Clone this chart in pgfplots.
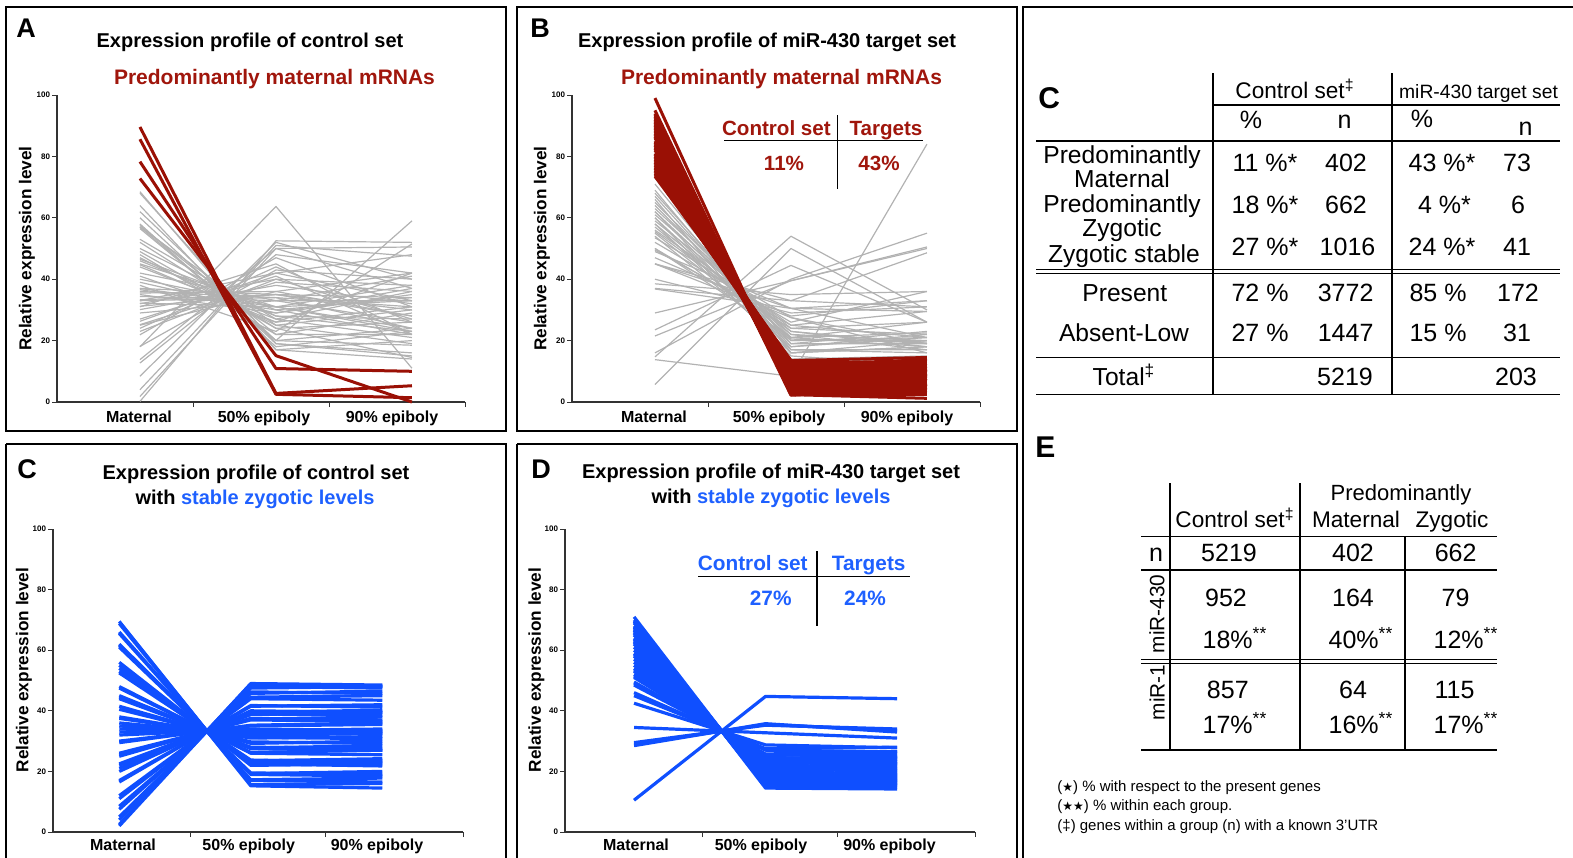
\documentclass[border=0pt]{standalone}
\usepackage{pgfplots}
\pgfplotsset{compat=1.18}
\usepackage{fontspec}
\setmainfont{Liberation Sans}
\newfontfamily\symfont{DejaVu Sans}
\definecolor{mred}{HTML}{9A1005}
\definecolor{tred}{HTML}{A0160C}
\definecolor{mblue}{HTML}{0F4FFF}
\definecolor{tblue}{HTML}{1E60FF}
\definecolor{lgrey}{HTML}{B2B2B2}
\definecolor{axgrey}{HTML}{333333}
\newcommand\fsz[1]{\fontsize{#1pt}{#1pt}\selectfont}
\newcommand\Lg[3]{\addplot[draw=lgrey,line width=0.6pt] coordinates {(0,#1)(1,#2)(2,#3)};}
\newcommand\Lr[3]{\addplot[draw=mred,line width=1.5pt] coordinates {(0,#1)(1,#2)(2,#3)};}
\newcommand\Lb[3]{\addplot[draw=mblue,line width=1.6pt] coordinates {(0,#1)(1,#2)(2,#3)};}
\pgfplotsset{panel/.style={
  scale only axis, anchor=south west, clip=false,
  ymin=0, ymax=100, ytick={0,20,40,60,80,100},
  axis x line=bottom, axis y line=left,
  axis line style={-, draw=axgrey, line width=0.6pt},
  tick style={draw=axgrey, line width=0.5pt},
  tick align=outside, major tick length=2.5pt,
  xticklabels={},
  yticklabel style={font=\bfseries\fsz{4}, inner sep=0.8pt},
  /pgf/number format/assume math mode=true,
  every axis plot/.append style={line join=round, mark=none},
}}
\begin{document}
\begin{tikzpicture}[x=0.5pt,y=-0.5pt]
\useasboundingbox (0,0) rectangle (1573,857);
% frames
\draw[line width=0.8pt] (6,7) rectangle (506,431);
\draw[line width=0.8pt] (517,7) rectangle (1017,431);
\draw[line width=0.8pt] (6,444) -- (6,870) (6,444) -- (506,444) -- (506,870);
\draw[line width=0.8pt] (517,444) -- (517,870) (517,444) -- (1017,444) -- (1017,870);
\draw[line width=0.8pt] (1023,870) -- (1023,7) -- (1590,7);

% ---------------- Panel A ----------------
\begin{axis}[panel, at={(28.5pt,-201pt)}, width=204pt, height=153.5pt,
  xmin=-0.61, xmax=2.39, xtick={0.39,1.39,2.39}]
\Lg{68.5}{17}{20}
\Lg{68}{19}{15}
\Lg{62}{20}{18.5}
\Lg{57.5}{22}{22}
\Lg{57}{25}{19}
\Lg{56.5}{20}{24}
\Lg{53}{27}{21}
\Lg{52}{24}{26}
\Lg{50}{28}{23}
\Lg{47}{25}{30}
\Lg{46.5}{30}{22}
\Lg{46}{28}{27}
\Lg{45}{31}{24}
\Lg{44.7}{26}{31}
\Lg{42}{33}{26}
\Lg{40}{31}{33}
\Lg{39}{29}{35}
\Lg{37}{35}{28}
\Lg{36.6}{30}{34}
\Lg{36}{34}{31}
\Lg{35.5}{36}{28}
\Lg{35}{29}{37}
\Lg{34.4}{33}{33}
\Lg{33.3}{35}{30}
\Lg{32.2}{31}{38}
\Lg{32}{40}{27}
\Lg{31.2}{35}{34}
\Lg{30.1}{38}{32}
\Lg{29}{33}{41}
\Lg{26.3}{42}{33}
\Lg{25.2}{39}{36}
\Lg{25}{36}{42}
\Lg{23}{40}{38}
\Lg{21.9}{47}{31}
\Lg{18.1}{43}{40}
\Lg{13.8}{50}{37}
\Lg{12.7}{48}{42}
\Lg{8.4}{52}{40}
\Lg{4}{51}{47.5}
\Lg{1.8}{50}{50.5}
\Lg{0.2}{52.5}{52}
\Lg{18}{63.7}{11}
\Lg{57}{20}{59}
\Lg{60}{19}{16}
\Lg{64}{17}{14}
\Lg{58}{18}{23}
\Lg{38}{23}{51.5}
\Lg{33}{42}{48}
\Lg{31}{45}{22}
\Lg{44}{27}{36}
\Lg{48}{22}{29}
\Lg{27}{41}{22}
\Lg{24}{44}{26}
\Lg{33}{34}{24}
\Lg{37}{31}{23}
\Lg{49}{24}{14.5}
\Lg{41}{26}{42}
\Lr{89.6}{2.8}{5.3}
\Lr{85.6}{2.5}{1.4}
\Lr{78.3}{10.9}{10}
\Lr{72.8}{15.1}{0}
\end{axis}

% ---------------- Panel B ----------------
\begin{axis}[panel, at={(286pt,-201pt)}, width=204pt, height=153.5pt,
  xmin=-0.61, xmax=2.39, xtick={0.39,1.39,2.39}]
\Lg{73}{16}{18}
\Lg{71}{17}{17}
\Lg{69}{16}{20}
\Lg{68}{19}{19}
\Lg{67}{18}{22}
\Lg{65}{21}{18}
\Lg{64}{20}{21}
\Lg{63}{22}{20}
\Lg{62}{17}{16}
\Lg{61}{23}{19}
\Lg{60}{19}{23}
\Lg{59}{24}{22}
\Lg{58}{22}{17}
\Lg{57}{21}{26}
\Lg{56}{25}{21}
\Lg{55.5}{23}{18}
\Lg{55}{20}{20}
\Lg{53.5}{27.5}{19}
\Lg{50}{24}{26}
\Lg{49.5}{25}{29.5}
\Lg{49}{30.5}{21}
\Lg{45}{30.5}{33}
\Lg{45}{27.5}{16}
\Lg{38.5}{35}{36}
\Lg{37}{33}{31}
\Lg{36.8}{30.5}{29.5}
\Lg{29}{39.5}{50.5}
\Lg{23.5}{44.5}{26}
\Lg{21.5}{39.5}{50}
\Lg{5.7}{50}{26}
\Lg{14.7}{54}{30}
\Lg{13.8}{8.4}{84}
\Lg{16}{40}{55}
\Lg{45}{33}{48.6}
\Lg{52}{26}{36}
\Lg{47}{28}{33}
\Lg{40}{29}{31}
\Lg{60}{15}{12}
\Lg{66}{14}{15}
\Lg{58}{16}{18}
\Lg{54}{18}{21}
\Lg{50}{21}{22.5}
\Lg{62}{20.5}{19.5}
\Lr{99}{2.4}{1.2}
\Lr{95}{2.5}{2.5}
\Lr{94}{3}{3}
\Lr{93.5}{2.2}{4.5}
\Lr{93}{4}{3.5}
\Lr{92.5}{3.5}{4}
\Lr{92}{5}{3}
\Lr{91.5}{4.5}{4.5}
\Lr{91}{3}{6}
\Lr{90.5}{5.5}{4}
\Lr{90}{6}{4.5}
\Lr{89.5}{5}{6}
\Lr{89}{6.5}{5}
\Lr{88.5}{4}{7.5}
\Lr{88}{7}{5.5}
\Lr{87.5}{6}{7}
\Lr{87}{8}{5}
\Lr{86.5}{7.5}{6.5}
\Lr{86}{5}{9}
\Lr{85}{8.5}{7}
\Lr{84.5}{7}{8.5}
\Lr{84}{9}{7.5}
\Lr{83.5}{6}{10.5}
\Lr{83}{10}{7}
\Lr{82.5}{8}{9.5}
\Lr{82}{9.5}{8.5}
\Lr{81}{11}{8}
\Lr{80.5}{8.5}{11}
\Lr{80}{10.5}{9.5}
\Lr{79.5}{12}{8.5}
\Lr{79}{9.5}{11.5}
\Lr{78.5}{11}{10.5}
\Lr{78}{12.5}{9.5}
\Lr{77.5}{10}{12.5}
\Lr{77}{13}{10}
\Lr{76.5}{11.5}{12}
\Lr{76}{12}{12}
\Lr{75.5}{13.5}{11}
\Lr{75}{11}{14}
\Lr{74.5}{13}{12.5}
\Lr{74}{12.5}{13.5}
\Lr{73.5}{13.5}{14.5}
\end{axis}

% ---------------- Panel C (bottom left) ----------------
\begin{axis}[panel, at={(26.5pt,-416pt)}, width=205pt, height=151.5pt,
  xmin=-0.504, xmax=2.614, xtick={0.538,1.572,2.614}]
\Lb{69.5}{15.25}{14.5}
\Lb{68.8}{15.6}{16}
\Lb{66}{17}{16.5}
\Lb{65.5}{17.25}{17.8}
\Lb{62}{19}{18.5}
\Lb{61.5}{19.25}{20}
\Lb{61}{19.5}{19}
\Lb{56}{22}{22.5}
\Lb{55}{22.5}{21.8}
\Lb{54}{23}{23.5}
\Lb{53}{23.5}{24.2}
\Lb{52.5}{23.75}{23}
\Lb{48}{26}{25.5}
\Lb{47.5}{26.25}{27}
\Lb{45}{27.5}{27}
\Lb{44.5}{27.75}{28.5}
\Lb{44}{28}{27.5}
\Lb{41.5}{29.25}{30}
\Lb{40.5}{29.75}{29.2}
\Lb{38}{31}{31.5}
\Lb{37.5}{31.25}{30.8}
\Lb{36}{32}{32.5}
\Lb{35}{32.5}{33.2}
\Lb{34}{33}{32.6}
\Lb{33}{33.5}{34}
\Lb{32}{34}{33.5}
\Lb{30}{35}{35.5}
\Lb{29.5}{35.25}{36}
\Lb{26}{37}{36.5}
\Lb{25.5}{37.25}{38}
\Lb{25}{37.5}{37}
\Lb{22.5}{38.75}{39.5}
\Lb{22}{39}{38.5}
\Lb{21}{39.5}{40.2}
\Lb{20}{40}{39.5}
\Lb{17}{41.5}{42}
\Lb{16.5}{41.75}{41.2}
\Lb{12}{44}{43.5}
\Lb{11}{44.5}{45}
\Lb{8.5}{45.75}{46.5}
\Lb{7.5}{46.25}{45.7}
\Lb{5}{47.5}{48}
\Lb{4}{48}{47.5}
\Lb{2.5}{48.75}{48.2}
\Lb{2}{49}{48.5}
\end{axis}

% ---------------- Panel D ----------------
\begin{axis}[panel, at={(282.5pt,-416pt)}, width=205pt, height=151.5pt,
  xmin=-0.525, xmax=2.593, xtick={0.517,1.551,2.593}]
\Lb{71}{14.5}{14.2}
\Lb{70}{15}{15.5}
\Lb{69.5}{15.25}{14.8}
\Lb{69}{15.5}{16}
\Lb{68}{16}{15.5}
\Lb{67.5}{16.25}{16.8}
\Lb{67}{16.5}{17}
\Lb{66.5}{16.75}{16.2}
\Lb{66}{17}{17.5}
\Lb{65.5}{17.25}{18}
\Lb{65}{17.5}{17}
\Lb{64}{18}{18.5}
\Lb{63.5}{18.25}{19}
\Lb{63}{18.5}{18}
\Lb{62.5}{18.75}{19.5}
\Lb{62}{19}{20}
\Lb{61}{19.5}{19}
\Lb{60}{20}{20.8}
\Lb{59}{20.5}{21}
\Lb{58.5}{20.75}{20.3}
\Lb{58}{21}{22}
\Lb{57}{21.5}{22.5}
\Lb{56}{22}{21.5}
\Lb{55}{22.5}{23.2}
\Lb{54}{23}{22.5}
\Lb{53.5}{23.25}{24}
\Lb{53}{23.5}{23}
\Lb{52}{24}{24.5}
\Lb{51.5}{24.25}{25}
\Lb{51}{24.5}{24}
\Lb{49.5}{25.25}{26}
\Lb{49}{25.5}{25}
\Lb{48.5}{25.75}{26.5}
\Lb{46}{27}{26.5}
\Lb{45}{27.5}{28}
\Lb{42.5}{28.75}{27.8}
\Lb{34.5}{32.75}{31}
\Lb{29.5}{35.25}{34}
\Lb{29}{35.5}{33.5}
\Lb{28.5}{35.75}{33}
\Lb{10.5}{44.75}{44}
\end{axis}

% ---------- texts of line panels ----------
\begin{scope}[every node/.style={inner sep=0pt}]
\node[anchor=base west,font=\bfseries\fsz{13.5}] at (16,37) {A};
\node[anchor=base west,font=\bfseries\fsz{13.5}] at (530,37) {B};
\node[anchor=base west,font=\bfseries\fsz{13.5}] at (17,478) {C};
\node[anchor=base west,font=\bfseries\fsz{13.5}] at (531,478) {D};
\node[anchor=base,font=\bfseries\fsz{10}] at (250,47) {Expression profile of control set};
\node[anchor=base,font=\bfseries\fsz{10.5},text=tred] at (274.5,84) {Predominantly maternal mRNAs};
\node[anchor=base,font=\bfseries\fsz{10}] at (767,47) {Expression profile of miR-430 target set};
\node[anchor=base,font=\bfseries\fsz{10.5},text=tred] at (781.5,84) {Predominantly maternal mRNAs};
\node[anchor=base,font=\bfseries\fsz{10}] at (256,479) {Expression profile of control set};
\node[anchor=base,font=\bfseries\fsz{10}] at (255,504) {with \textcolor{tblue}{stable zygotic levels}};
\node[anchor=base,font=\bfseries\fsz{10}] at (771,478) {Expression profile of miR-430 target set};
\node[anchor=base,font=\bfseries\fsz{10}] at (771,503) {with \textcolor{tblue}{stable zygotic levels}};
% y labels
\node[rotate=90,font=\bfseries\fsz{8.6}] at (27,248.5) {Relative expression level};
\node[rotate=90,font=\bfseries\fsz{8.6}] at (542,248.5) {Relative expression level};
\node[rotate=90,font=\bfseries\fsz{8.6}] at (24,670) {Relative expression level};
\node[rotate=90,font=\bfseries\fsz{8.6}] at (536.5,670) {Relative expression level};
% category labels
\foreach \xa/\xb/\xc/\yy in {139/264/392/422, 654/779/907/422, 123/248.7/377/850, 636/761/889.5/850}{
  \node[anchor=base,font=\bfseries\fsz{8}] at (\xa,\yy) {Maternal};
  \node[anchor=base,font=\bfseries\fsz{8}] at (\xb,\yy) {50\% epiboly};
  \node[anchor=base,font=\bfseries\fsz{8}] at (\xc,\yy) {90\% epiboly};
}
% inset B
\node[anchor=base,font=\bfseries\fsz{10.3},text=tred] at (776.4,135) {Control set};
\node[anchor=base,font=\bfseries\fsz{10.3},text=tred] at (886,135) {Targets};
\node[anchor=base,font=\bfseries\fsz{10.3},text=tred] at (784,170.7) {11\%};
\node[anchor=base,font=\bfseries\fsz{10.3},text=tred] at (879,170.7) {43\%};
\draw[line width=0.7pt] (724,140.3) -- (923,140.3) (837.3,115) -- (837.3,189);
% inset D
\node[anchor=base,font=\bfseries\fsz{10.4},text=tblue] at (752.7,570) {Control set};
\node[anchor=base,font=\bfseries\fsz{10.4},text=tblue] at (868.7,570) {Targets};
\node[anchor=base,font=\bfseries\fsz{10.4},text=tblue] at (770.7,605) {27\%};
\node[anchor=base,font=\bfseries\fsz{10.4},text=tblue] at (865,605) {24\%};
\draw[line width=0.7pt] (698,576.7) -- (910,576.7) (817,551) -- (817,625.7);
\end{scope}

% ---------- Table C (right top) ----------
\begin{scope}[every node/.style={inner sep=0pt,anchor=base}]
\node[anchor=base west,font=\bfseries\fsz{15}] at (1038,108.5) {C};
\draw[line width=0.7pt] (1213,73.3) -- (1213,394.3) (1392,73.3) -- (1392,394.3);
\draw[line width=0.7pt] (1213,105) -- (1560,105);
\draw[line width=0.7pt] (1036,141) -- (1560,141);
\draw[line width=0.6pt] (1036,269.3) -- (1560,269.3) (1036,273.3) -- (1560,273.3);
\draw[line width=0.7pt] (1036,357.7) -- (1560,357.7) (1036,394.3) -- (1560,394.3);
\node[font=\fsz{11.3}] at (1295,98.3) {Control set\textsuperscript{‡}};
\node[font=\fsz{9.65}] at (1478.5,98.3) {miR-430 target set};
\node[font=\fsz{12.5}] at (1251,128.3) {\%};
\node[font=\fsz{12.5}] at (1344.5,128.3) {n};
\node[font=\fsz{12.5}] at (1422,127) {\%};
\node[font=\fsz{12.5}] at (1525.5,135) {n};
\begin{scope}[every node/.append style={font=\fsz{12.3}}]
\node at (1122,163) {Predominantly};
\node at (1122,187) {Maternal};
\node at (1122,212) {Predominantly};
\node at (1122,236.5) {Zygotic};
\node at (1124,262) {Zygotic stable};
\node at (1124.8,301.7) {Present};
\node at (1124,341.7) {Absent-Low};
\node at (1124,385) {Total\textsuperscript{‡}};
\end{scope}
\begin{scope}[every node/.append style={font=\fsz{12.5}}]
\node at (1265,171.7) {11 \%*};
\node at (1346,171.7) {402};
\node at (1442,171.7) {43 \%*};
\node at (1517,171.7) {73};
\node at (1265,213.3) {18 \%*};
\node at (1346,213.3) {662};
\node at (1444.5,213.3) {4 \%*};
\node at (1518,213.3) {6};
\node at (1265,255) {27 \%*};
\node at (1347.5,255) {1016};
\node at (1442,255) {24 \%*};
\node at (1517,255) {41};
\node at (1260,301.7) {72 \%};
\node at (1345.6,301.7) {3772};
\node at (1438,301.7) {85 \%};
\node at (1518,301.7) {172};
\node at (1260,341.7) {27 \%};
\node at (1345.6,341.7) {1447};
\node at (1438,341.7) {15 \%};
\node at (1517,341.7) {31};
\node at (1345,385) {5219};
\node at (1516,385) {203};
\end{scope}

% ---------- Table E (right bottom) ----------
\node[anchor=base west,font=\bfseries\fsz{15}] at (1035,457) {E};
\draw[line width=0.7pt] (1170,483.3) -- (1170,750) (1300,483.3) -- (1300,750) (1405,536.7) -- (1405,750);
\draw[line width=0.7pt] (1141,536.7) -- (1497,536.7) (1141,570) -- (1497,570) (1141,750) -- (1497,750);
\draw[line width=0.6pt] (1141,659.3) -- (1497,659.3) (1141,663.3) -- (1497,663.3);
\node[font=\fsz{11}] at (1401,500) {Predominantly};
\node[font=\fsz{11.3}] at (1235,527.7) {Control set\textsuperscript{‡}};
\node[font=\fsz{11.3}] at (1356,527.7) {Maternal};
\node[font=\fsz{11.3}] at (1452,527.7) {Zygotic};
\begin{scope}[every node/.append style={font=\fsz{12.5}}]
\node at (1156,561) {n};
\node at (1229,561) {5219};
\node at (1353,561) {402};
\node at (1455.6,561) {662};
\node at (1226,606.7) {952};
\node at (1353,606.7) {164};
\node at (1455.6,606.7) {79};
\node at (1235,648.3) {18\%\textsuperscript{**}};
\node at (1361,648.3) {40\%\textsuperscript{**}};
\node at (1466,648.3) {12\%\textsuperscript{**}};
\node at (1227.8,698.3) {857};
\node at (1353,698.3) {64};
\node at (1454.6,698.3) {115};
\node at (1235,733.3) {17\%\textsuperscript{**}};
\node at (1361,733.3) {16\%\textsuperscript{**}};
\node at (1466,733.3) {17\%\textsuperscript{**}};
\end{scope}
\node[anchor=center,rotate=90,font=\fsz{10.4}] at (1157,613.8) {miR-430};
\node[anchor=center,rotate=90,font=\fsz{10.4}] at (1157,692.5) {miR-1};
\node[anchor=base west,font=\fsz{7.5}] at (1057,791) {({\symfont\fsz{6}★}) \% with respect to the present genes};
\node[anchor=base west,font=\fsz{7.5}] at (1057,810) {({\symfont\fsz{6}★★}) \% within each group.};
\node[anchor=base west,font=\fsz{7.5}] at (1057,830) {(‡) genes within a group (n) with a known 3'UTR};
\end{scope}
\end{tikzpicture}
\end{document}
